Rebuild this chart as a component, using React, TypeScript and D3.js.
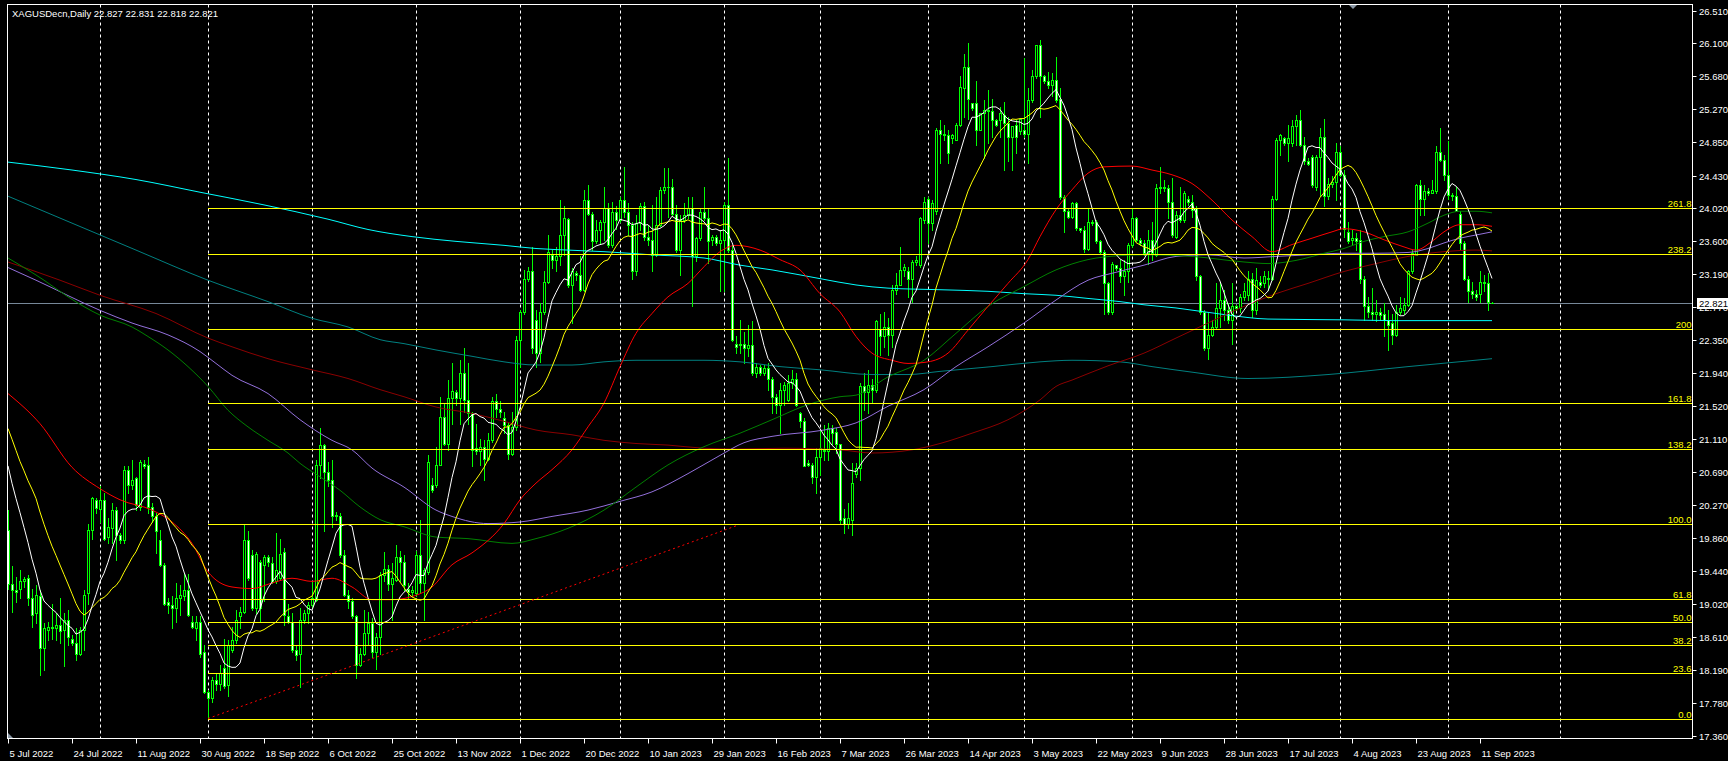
import React from 'react';
import * as d3 from 'd3';

const WIDTH = 1728;
const HEIGHT = 761;

// daily bars: open, high, low, close
const candles: [number, number, number, number][] = [
  [19.96, 20.21, 19.22, 19.28], [19.28, 19.5, 18.93, 19.2], [19.2, 19.37, 19.05, 19.18], [19.22, 19.45, 19.1, 19.31],
  [19.31, 19.37, 19.24, 19.34], [19.35, 19.39, 19.01, 19.1], [19.1, 19.22, 18.74, 18.89], [18.91, 19.26, 18.78, 19.14],
  [19.12, 19.2, 18.13, 18.47], [18.47, 18.78, 18.19, 18.72], [18.7, 18.8, 18.57, 18.74], [18.74, 19.03, 18.59, 18.72],
  [18.72, 18.91, 18.57, 18.76], [18.76, 19.1, 18.53, 18.68], [18.7, 18.91, 18.24, 18.82], [18.82, 18.95, 18.51, 18.61],
  [18.59, 18.63, 18.51, 18.53], [18.53, 18.72, 18.32, 18.4], [18.4, 18.74, 18.38, 18.7], [18.7, 19.2, 18.45, 19.14],
  [19.16, 20.04, 19.03, 19.96], [19.96, 20.38, 19.85, 20.36], [20.34, 20.36, 20.17, 20.24], [20.23, 20.51, 20.06, 20.34],
  [20.34, 20.42, 19.83, 19.85], [19.87, 20.11, 19.79, 20.0], [19.98, 20.3, 19.79, 20.21], [20.21, 20.25, 19.58, 19.9],
  [19.9, 19.92, 19.79, 19.83], [19.83, 20.76, 19.79, 20.72], [20.72, 20.76, 20.42, 20.53], [20.53, 20.84, 20.48, 20.59],
  [20.61, 20.63, 20.21, 20.27], [20.25, 20.84, 20.21, 20.82], [20.79, 20.84, 20.74, 20.77], [20.78, 20.88, 20.17, 20.25],
  [20.25, 20.3, 20.06, 20.13], [20.13, 20.17, 19.67, 19.94], [19.83, 19.96, 19.5, 19.52], [19.52, 19.54, 19.01, 19.03],
  [19.05, 19.1, 18.91, 19.01], [19.01, 19.12, 18.72, 18.97], [18.97, 19.29, 18.8, 19.1], [19.1, 19.26, 18.89, 19.14],
  [19.12, 19.41, 19.08, 19.2], [19.2, 19.41, 18.87, 18.89], [18.8, 18.87, 18.72, 18.74], [18.72, 18.87, 18.57, 18.8],
  [18.8, 18.87, 18.36, 18.4], [18.42, 18.51, 17.9, 17.92], [17.92, 17.94, 17.57, 17.84], [17.84, 18.11, 17.79, 18.07],
  [18.07, 18.15, 17.94, 18.01], [18.01, 18.26, 17.94, 18.15], [18.22, 18.59, 17.96, 17.99], [18.0, 18.57, 17.86, 18.51],
  [18.45, 18.74, 18.42, 18.57], [18.57, 18.95, 18.53, 18.82], [18.87, 18.99, 18.72, 18.93], [18.93, 20.02, 18.91, 19.83],
  [19.83, 19.94, 19.33, 19.35], [19.64, 19.71, 18.95, 18.97], [18.97, 19.68, 18.91, 19.66], [19.56, 19.58, 18.8, 18.97],
  [19.52, 19.64, 19.06, 19.62], [19.62, 19.64, 19.5, 19.56], [19.54, 19.62, 19.29, 19.31], [19.31, 19.92, 19.29, 19.45],
  [19.35, 19.85, 19.33, 19.66], [19.68, 19.73, 18.76, 18.89], [18.87, 19.03, 18.78, 18.8], [18.8, 18.91, 18.42, 18.45],
  [18.45, 18.49, 18.32, 18.38], [18.4, 18.97, 17.98, 18.82], [18.82, 18.95, 18.78, 18.91], [18.91, 19.05, 18.78, 19.01],
  [19.01, 19.31, 18.97, 19.1], [19.08, 20.84, 19.06, 20.78], [20.78, 21.24, 20.61, 21.03], [21.03, 21.05, 19.94, 20.69],
  [20.69, 20.82, 20.51, 20.59], [20.59, 20.84, 20.0, 20.13], [20.15, 20.19, 20.09, 20.13], [20.13, 20.17, 19.62, 19.64],
  [19.64, 19.71, 19.12, 19.14], [19.14, 19.2, 18.97, 19.06], [19.06, 19.1, 18.85, 18.87], [18.87, 18.89, 18.09, 18.26],
  [18.26, 18.47, 18.24, 18.4], [18.4, 18.95, 18.38, 18.66], [18.66, 18.93, 18.51, 18.78], [18.78, 18.85, 18.36, 18.42],
  [18.42, 18.66, 18.2, 18.61], [18.61, 19.43, 18.4, 19.39], [19.39, 19.68, 19.31, 19.47], [19.47, 19.52, 19.2, 19.28],
  [19.28, 19.54, 18.82, 19.35], [19.33, 19.77, 19.31, 19.62], [19.62, 19.69, 19.31, 19.56], [19.56, 19.64, 19.2, 19.27],
  [19.22, 19.29, 19.1, 19.18], [19.18, 19.25, 19.12, 19.2], [19.16, 19.69, 19.12, 19.64], [19.64, 20.08, 19.16, 19.29],
  [19.29, 19.48, 18.82, 19.45], [19.43, 20.9, 19.41, 20.82], [20.53, 20.61, 20.44, 20.46], [20.53, 21.01, 20.5, 20.78],
  [20.78, 21.64, 20.78, 21.39], [21.39, 21.56, 21.03, 21.05], [21.05, 21.85, 20.97, 21.62], [21.62, 22.06, 21.3, 21.71],
  [21.7, 21.73, 21.54, 21.62], [21.62, 22.1, 21.3, 21.94], [21.94, 22.25, 21.45, 21.6], [21.6, 22.06, 21.3, 21.43],
  [21.43, 21.45, 20.76, 20.97], [20.99, 21.3, 20.92, 20.95], [20.95, 21.11, 20.78, 21.01], [21.01, 21.09, 20.59, 20.86],
  [20.86, 21.18, 20.84, 21.09], [21.09, 21.64, 21.07, 21.58], [21.58, 21.68, 21.39, 21.49], [21.49, 21.58, 21.39, 21.45],
  [21.37, 21.45, 21.18, 21.28], [21.28, 21.32, 20.86, 20.92], [20.92, 21.45, 20.9, 21.26], [21.26, 22.4, 21.22, 22.36],
  [22.36, 22.73, 22.02, 22.71], [22.71, 23.24, 22.69, 23.13], [23.13, 23.28, 23.1, 23.22], [23.22, 23.53, 22.19, 22.25],
  [22.61, 22.73, 22.02, 22.19], [22.19, 22.82, 22.08, 22.71], [22.71, 23.22, 22.69, 23.09], [23.09, 23.68, 23.07, 23.47],
  [23.43, 23.49, 23.26, 23.37], [23.37, 23.53, 23.22, 23.41], [23.41, 24.12, 23.3, 23.68], [23.68, 24.04, 23.43, 23.89],
  [23.88, 23.89, 23.03, 23.05], [23.05, 23.26, 22.57, 23.22], [23.2, 23.22, 23.11, 23.18], [23.18, 23.41, 22.97, 22.99],
  [22.99, 24.25, 22.97, 24.12], [24.12, 24.31, 23.93, 23.95], [23.95, 23.97, 23.49, 23.6], [23.6, 23.87, 23.58, 23.74],
  [23.74, 23.87, 23.58, 23.85], [23.85, 24.29, 23.62, 24.02], [24.02, 24.08, 23.53, 23.55], [23.55, 24.1, 23.53, 23.97],
  [23.97, 24.04, 23.76, 23.87], [23.87, 24.16, 23.85, 24.12], [24.12, 24.54, 23.91, 23.97], [23.97, 24.08, 23.68, 23.81],
  [23.81, 23.85, 23.12, 23.22], [23.22, 23.93, 23.18, 23.83], [23.83, 24.08, 23.74, 24.04], [24.04, 24.1, 23.62, 23.66],
  [23.66, 23.81, 23.55, 23.62], [23.62, 24.06, 23.22, 23.43], [23.43, 24.16, 23.41, 23.81], [23.81, 24.29, 23.79, 24.25],
  [24.25, 24.52, 24.21, 24.29], [24.29, 24.52, 23.91, 24.29], [24.29, 24.39, 23.93, 23.95], [23.95, 24.06, 23.47, 23.49],
  [23.49, 23.93, 23.18, 23.87], [23.87, 24.08, 23.85, 23.93], [23.93, 24.16, 23.89, 24.02], [24.02, 24.16, 22.78, 23.41],
  [23.41, 23.66, 23.35, 23.64], [23.64, 24.02, 23.62, 23.97], [23.97, 24.29, 23.87, 23.89], [23.89, 24.02, 23.33, 23.6],
  [23.62, 23.68, 23.55, 23.66], [23.66, 23.68, 23.55, 23.58], [23.58, 23.74, 22.97, 23.62], [23.62, 24.1, 22.97, 24.06],
  [24.06, 24.65, 23.47, 23.49], [23.49, 23.55, 22.34, 22.36], [22.3, 22.4, 22.19, 22.27], [22.29, 22.61, 22.19, 22.3],
  [22.3, 22.46, 22.06, 22.25], [22.25, 22.54, 22.15, 22.29], [22.29, 22.59, 21.92, 21.94], [21.94, 22.06, 21.89, 22.02],
  [22.02, 22.04, 21.92, 21.94], [21.94, 22.04, 21.92, 22.0], [22.0, 22.06, 21.73, 21.87], [21.87, 21.89, 21.43, 21.64],
  [21.64, 21.68, 21.43, 21.53], [21.53, 21.81, 21.18, 21.72], [21.72, 21.83, 21.54, 21.79], [21.6, 21.92, 21.58, 21.81],
  [21.81, 21.98, 21.75, 21.87], [21.87, 21.94, 21.52, 21.54], [21.43, 21.45, 21.26, 21.33], [21.33, 21.37, 20.76, 20.76],
  [20.8, 20.84, 20.76, 20.78], [20.78, 20.8, 20.55, 20.63], [20.63, 20.99, 20.42, 20.88], [20.88, 21.22, 20.65, 20.99],
  [20.97, 21.28, 20.84, 20.95], [20.95, 21.31, 20.84, 21.24], [21.24, 21.28, 21.05, 21.18], [21.2, 21.24, 20.93, 21.05],
  [21.05, 21.05, 20.04, 20.09], [20.11, 20.23, 19.92, 20.04], [20.04, 20.3, 19.98, 20.11], [20.09, 20.8, 19.9, 20.55],
  [20.67, 20.8, 20.63, 20.74], [20.74, 21.81, 20.59, 21.77], [21.77, 21.94, 21.47, 21.7], [21.7, 21.98, 21.43, 21.79],
  [21.79, 21.87, 21.56, 21.73], [21.73, 22.61, 21.7, 22.59], [22.5, 22.69, 22.17, 22.4], [22.4, 22.71, 22.27, 22.52],
  [22.52, 22.63, 22.17, 22.42], [22.42, 23.05, 22.27, 22.99], [22.99, 23.2, 22.94, 23.05], [23.05, 23.53, 23.05, 23.24],
  [23.24, 23.32, 23.16, 23.28], [23.22, 23.28, 22.9, 23.13], [23.13, 23.37, 22.84, 23.34], [23.34, 23.41, 23.3, 23.37],
  [23.3, 23.91, 23.28, 23.89], [23.87, 24.16, 23.83, 24.1], [24.14, 24.16, 23.58, 23.83], [23.83, 24.12, 23.74, 24.08],
  [23.98, 25.03, 23.95, 25.01], [25.01, 25.13, 24.59, 24.96], [24.96, 25.07, 24.88, 24.94], [24.94, 25.01, 24.59, 24.71],
  [24.9, 24.96, 24.84, 24.94], [24.88, 25.09, 24.88, 25.07], [25.07, 25.68, 25.05, 25.55], [25.53, 25.97, 25.17, 25.8],
  [25.8, 26.1, 25.15, 25.4], [25.34, 25.34, 25.26, 25.28], [25.34, 25.62, 24.82, 25.01], [25.01, 25.22, 25.01, 25.22],
  [25.22, 25.38, 24.65, 25.26], [25.26, 25.51, 24.84, 25.24], [25.24, 25.4, 24.92, 25.13], [25.13, 25.15, 25.05, 25.07],
  [25.13, 25.3, 24.92, 25.22], [25.19, 25.36, 24.5, 25.09], [25.09, 25.17, 24.61, 24.92], [24.92, 25.05, 24.5, 25.05],
  [25.07, 25.13, 24.71, 24.92], [24.99, 25.15, 24.96, 25.15], [25.01, 25.91, 24.92, 24.96], [24.96, 25.53, 24.59, 25.38],
  [25.38, 25.76, 25.36, 25.68], [25.68, 26.08, 25.66, 26.08], [26.08, 26.14, 25.17, 25.68], [25.68, 25.7, 25.6, 25.62],
  [25.62, 25.74, 25.53, 25.57], [25.57, 25.72, 25.43, 25.64], [25.64, 25.93, 25.36, 25.38], [25.4, 25.53, 24.14, 24.16],
  [24.16, 24.19, 23.72, 23.98], [23.98, 24.02, 23.89, 23.91], [23.91, 24.1, 23.89, 24.08], [24.08, 24.1, 23.74, 23.77],
  [23.77, 23.77, 23.72, 23.74], [23.74, 23.79, 23.47, 23.51], [23.51, 24.02, 23.49, 23.85], [23.85, 23.87, 23.81, 23.83],
  [23.85, 23.87, 23.58, 23.6], [23.6, 23.62, 23.45, 23.47], [23.47, 23.49, 22.69, 23.07], [23.07, 23.09, 22.69, 22.71],
  [22.71, 23.34, 22.69, 23.32], [23.3, 23.3, 23.24, 23.26], [23.26, 23.36, 23.09, 23.16], [23.16, 23.36, 22.92, 23.22],
  [23.22, 23.58, 23.09, 23.55], [23.55, 24.02, 23.53, 23.89], [23.89, 23.91, 23.6, 23.62], [23.62, 23.64, 23.55, 23.58],
  [23.58, 23.62, 23.43, 23.45], [23.45, 23.74, 23.32, 23.62], [23.62, 23.85, 23.36, 23.45], [23.43, 24.33, 23.41, 24.27],
  [24.27, 24.54, 24.21, 24.29], [24.29, 24.37, 24.23, 24.27], [24.27, 24.31, 23.89, 24.1], [24.1, 24.4, 23.66, 23.68],
  [23.66, 23.98, 23.64, 23.93], [23.93, 24.29, 23.85, 23.87], [23.87, 24.23, 23.85, 24.21], [24.14, 24.17, 24.06, 24.1],
  [24.1, 24.19, 23.91, 24.0], [24.02, 24.04, 23.11, 23.16], [23.16, 23.18, 22.69, 22.71], [22.71, 22.74, 22.23, 22.25],
  [22.25, 22.71, 22.12, 22.42], [22.42, 22.61, 22.4, 22.52], [22.52, 23.07, 22.5, 22.76], [22.76, 23.09, 22.52, 22.86],
  [22.86, 22.99, 22.61, 22.74], [22.74, 22.82, 22.57, 22.61], [22.61, 23.07, 22.31, 22.78], [22.78, 22.8, 22.74, 22.76],
  [22.76, 22.94, 22.71, 22.9], [22.9, 23.07, 22.86, 22.97], [22.92, 23.22, 22.86, 23.13], [23.13, 23.2, 22.65, 22.74],
  [22.74, 23.26, 22.69, 23.11], [23.09, 23.16, 23.03, 23.05], [23.07, 23.22, 23.03, 23.16], [23.14, 23.22, 22.99, 23.13],
  [23.13, 24.17, 23.11, 24.14], [24.14, 24.9, 24.12, 24.88], [24.88, 24.96, 24.69, 24.94], [24.9, 24.92, 24.82, 24.84],
  [24.84, 25.07, 24.61, 24.9], [24.84, 25.13, 24.8, 25.05], [25.05, 25.19, 24.82, 25.13], [25.13, 25.26, 24.8, 24.82],
  [24.82, 24.92, 24.58, 24.61], [24.61, 24.65, 24.56, 24.58], [24.67, 24.69, 24.29, 24.31], [24.29, 24.69, 24.25, 24.67],
  [24.67, 25.03, 24.17, 24.92], [24.92, 25.15, 24.04, 24.17], [24.17, 24.4, 24.14, 24.33], [24.33, 24.42, 24.29, 24.35],
  [24.35, 24.84, 24.12, 24.73], [24.73, 24.8, 24.42, 24.44], [24.44, 24.5, 23.66, 23.76], [23.72, 23.85, 23.58, 23.6],
  [23.62, 23.74, 23.55, 23.64], [23.64, 23.7, 23.49, 23.6], [23.62, 23.74, 23.07, 23.13], [23.13, 23.16, 22.61, 22.78],
  [22.78, 22.9, 22.65, 22.71], [22.71, 23.01, 22.61, 22.69], [22.69, 22.86, 22.59, 22.71], [22.71, 22.76, 22.61, 22.67],
  [22.69, 22.82, 22.4, 22.61], [22.61, 22.74, 22.23, 22.55], [22.57, 22.69, 22.31, 22.42], [22.42, 22.8, 22.4, 22.71],
  [22.71, 22.9, 22.69, 22.76], [22.74, 22.88, 22.69, 22.8], [22.8, 23.24, 22.78, 23.22], [23.22, 23.49, 23.2, 23.45],
  [23.43, 24.33, 23.43, 24.31], [24.31, 24.37, 23.93, 24.14], [24.14, 24.31, 23.93, 24.23], [24.23, 24.27, 24.19, 24.21],
  [24.21, 24.37, 24.21, 24.25], [24.23, 24.8, 24.21, 24.73], [24.73, 25.03, 24.61, 24.63], [24.63, 24.69, 24.37, 24.44],
  [24.44, 24.86, 24.14, 24.19], [24.19, 24.21, 24.12, 24.17], [24.17, 24.29, 23.98, 23.98], [23.95, 23.98, 23.49, 23.58],
  [23.58, 23.6, 23.11, 23.13], [23.13, 23.16, 22.84, 22.97], [22.97, 23.09, 22.88, 22.94], [22.94, 22.99, 22.86, 22.9],
  [22.94, 23.22, 22.84, 23.09], [23.09, 23.18, 22.97, 23.07], [23.07, 23.2, 22.74, 22.84], [22.827, 22.831, 22.818, 22.821],
];

// closes before the first visible bar (feed the short moving averages)
const priorCloses = [21.9, 22.0, 22.1, 21.7, 21.6, 21.0, 21.5, 21.9, 21.8, 21.6, 21.4, 21.1, 21.1, 21.2, 21.0, 21.0, 20.9, 20.6, 20.1];

const dateLabels = [
  '5 Jul 2022', '24 Jul 2022', '11 Aug 2022', '30 Aug 2022', '18 Sep 2022', '6 Oct 2022', '25 Oct 2022', '13 Nov 2022',
  '1 Dec 2022', '20 Dec 2022', '10 Jan 2023', '29 Jan 2023', '16 Feb 2023', '7 Mar 2023', '26 Mar 2023', '14 Apr 2023',
  '3 May 2023', '22 May 2023', '9 Jun 2023', '28 Jun 2023', '17 Jul 2023', '4 Aug 2023', '23 Aug 2023', '11 Sep 2023',
];
const barsPerDateLabel = 16;

// first bar of each month (dashed grid)
const monthStartBars = [23, 50, 76, 102, 128, 153, 179, 203, 230, 254, 281, 307, 333, 360, 388];

const priceTicks = [
  26.51, 26.1, 25.68, 25.27, 24.85, 24.43, 24.02, 23.6, 23.19, 22.77, 22.35, 21.94, 21.52, 21.11, 20.69, 20.27, 19.86,
  19.44, 19.02, 18.61, 18.19, 17.78, 17.36,
];

const fibRatios = [0, 0.236, 0.382, 0.5, 0.618, 1, 1.382, 1.618, 2, 2.382, 2.618];
const fibLabels = ['0.0', '23.6', '38.2', '50.0', '61.8', '100.0', '138.2', '161.8', '200', '238.2', '261.8'];
const fibLow = 17.571;
const fibHigh = 20.035;
const fibStartBar = 50;

const trendLine: [number, number][] = [[50, 17.58], [182.5, 20.02]];

const lastPrice = 22.821;

// long moving averages: [bar, price]
const maRed: [number, number][] = [
  [0, 21.68], [8, 21.3], [16, 20.75], [23, 20.48], [28, 20.34], [36, 20.21], [41, 20.06], [46, 19.79], [50, 19.43],
  [56, 19.24], [61, 19.22], [66, 19.29], [71, 19.35], [76, 19.31], [81, 19.35], [86, 19.24], [91, 19.08], [96, 19.08],
  [101, 19.12], [106, 19.24], [111, 19.52], [116, 19.67], [124, 20.04], [128, 20.34], [132, 20.55], [136, 20.72],
  [141, 20.97], [145, 21.26], [149, 21.56], [153, 22.02], [157, 22.44], [161, 22.69], [165, 22.9], [170, 23.07],
  [174, 23.28], [178, 23.47], [182, 23.55], [188, 23.49], [193, 23.37], [198, 23.24], [203, 22.94], [208, 22.71],
  [212, 22.4], [216, 22.19], [221, 22.1], [225, 22.06], [230, 22.08], [235, 22.19], [240, 22.48], [245, 22.78],
  [250, 23.07], [255, 23.37], [258, 23.66], [262, 24.0], [266, 24.25], [270, 24.46], [274, 24.54], [281, 24.55],
  [286, 24.5], [291, 24.44], [296, 24.33], [301, 24.12], [306, 23.87], [311, 23.66], [316, 23.47], [321, 23.56],
  [326, 23.64], [331, 23.72], [334, 23.76], [339, 23.72], [344, 23.62], [349, 23.53], [352, 23.49], [356, 23.6],
  [359, 23.72], [363, 23.81], [367, 23.81], [371, 23.79],
];
const maGreen: [number, number][] = [
  [0, 23.39], [9, 23.11], [15, 22.9], [23, 22.67], [31, 22.52], [35, 22.4], [40, 22.23], [45, 22.02], [50, 21.77],
  [55, 21.47], [60, 21.26], [65, 21.09], [70, 20.93], [73, 20.8], [78, 20.63], [83, 20.46], [88, 20.25], [93, 20.09],
  [99, 20.0], [107, 19.87], [115, 19.85], [126, 19.79], [132, 19.85], [140, 19.98], [149, 20.21], [157, 20.5],
  [165, 20.78], [174, 21.01], [183, 21.18], [191, 21.35], [200, 21.54], [208, 21.64], [212, 21.66], [220, 21.89],
  [229, 22.1], [237, 22.44], [245, 22.78], [254, 23.03], [262, 23.24], [270, 23.37], [278, 23.42], [284, 23.43],
  [296, 23.41], [309, 23.34], [315, 23.32], [322, 23.36], [329, 23.45], [334, 23.51], [339, 23.6], [344, 23.66],
  [350, 23.72], [355, 23.83], [359, 23.93], [363, 23.98], [367, 23.98], [371, 23.96],
];
const maPurple: [number, number][] = [
  [0, 23.27], [7, 23.11], [23, 22.73], [31, 22.57], [40, 22.42], [48, 22.21], [52, 22.06], [56, 21.91], [65, 21.68],
  [73, 21.35], [81, 21.09], [86, 20.97], [91, 20.74], [99, 20.5], [107, 20.21], [111, 20.13], [120, 20.04], [128, 20.06],
  [136, 20.13], [145, 20.21], [153, 20.32], [161, 20.44], [170, 20.67], [178, 20.9], [184, 21.06], [191, 21.14],
  [204, 21.22], [212, 21.31], [220, 21.52], [229, 21.73], [237, 22.02], [245, 22.27], [254, 22.57], [262, 22.86],
  [270, 23.11], [277, 23.21], [284, 23.3], [292, 23.41], [300, 23.43], [309, 23.39], [317, 23.41], [325, 23.43],
  [334, 23.45], [342, 23.45], [350, 23.46], [355, 23.51], [359, 23.58], [363, 23.64], [367, 23.68], [371, 23.72],
];
const maDarkRed: [number, number][] = [
  [0, 23.34], [13, 23.11], [23, 22.92], [37, 22.69], [50, 22.38], [56, 22.27], [65, 22.12], [76, 21.98], [85, 21.87],
  [93, 21.73], [99, 21.64], [107, 21.51], [116, 21.43], [124, 21.33], [132, 21.22], [141, 21.16], [149, 21.09],
  [157, 21.05], [165, 21.03], [174, 20.99], [182, 20.98], [194, 20.99], [208, 20.97], [216, 20.93], [226, 20.97],
  [233, 21.05], [241, 21.18], [250, 21.35], [258, 21.6], [262, 21.77], [266, 21.85], [275, 22.03], [284, 22.19],
  [292, 22.38], [300, 22.57], [309, 22.78], [317, 22.94], [325, 23.07], [334, 23.22], [342, 23.32], [350, 23.41],
  [359, 23.47], [367, 23.49], [371, 23.48],
];
const maAqua: [number, number][] = [
  [0, 24.6], [16, 24.5], [32, 24.38], [48, 24.22], [64, 24.06], [80, 23.88], [90, 23.75], [101, 23.66], [112, 23.6],
  [124, 23.55], [132, 23.51], [140, 23.49], [149, 23.47], [161, 23.43], [174, 23.39], [183, 23.3], [191, 23.24],
  [203, 23.13], [212, 23.05], [220, 23.01], [233, 22.99], [245, 22.97], [254, 22.94], [262, 22.92], [270, 22.88],
  [278, 22.84], [284, 22.8], [292, 22.76], [305, 22.67], [315, 22.62], [334, 22.61], [347, 22.6], [371, 22.6],
];
const maTeal: [number, number][] = [
  [0, 24.17], [16, 23.83], [32, 23.49], [50, 23.11], [65, 22.84], [76, 22.63], [85, 22.52], [93, 22.36], [99, 22.31],
  [107, 22.23], [116, 22.15], [124, 22.08], [132, 22.04], [141, 22.04], [149, 22.08], [157, 22.1], [174, 22.1],
  [183, 22.08], [193, 22.02], [203, 21.98], [216, 21.92], [225, 21.92], [233, 21.96], [246, 22.02], [258, 22.08],
  [266, 22.1], [278, 22.08], [286, 22.02], [296, 21.95], [310, 21.87], [330, 21.92], [350, 22.02], [371, 22.12],
];

const FONT = "'Liberation Sans', Arial, sans-serif";

function sma(period: number): [number, number][] {
  const closes = [...priorCloses, ...candles.map((c) => c[3])];
  return candles.map((_, i) => {
    const end = priorCloses.length + i;
    return [i, d3.mean(closes.slice(end - period + 1, end + 1)) as number];
  });
}

export default function App() {
  const plot = { left: 7.5, top: 4.5, right: 1692.5, bottom: 738.5 };
  const x = d3.scaleLinear().domain([0, candles.length - 1]).range([8, 8 + 4 * (candles.length - 1)]);
  const y = d3.scaleLinear().domain([17.36, 26.51]).range([736, 10.7]);

  const smooth = d3
    .line<[number, number]>()
    .x((d) => x(d[0]))
    .y((d) => y(d[1]))
    .curve(d3.curveMonotoneX);
  const straight = d3
    .line<[number, number]>()
    .x((d) => x(d[0]))
    .y((d) => y(d[1]));

  const longMas: { data: [number, number][]; color: string }[] = [
    { data: maTeal, color: '#008080' },
    { data: maAqua, color: '#00ffff' },
    { data: maDarkRed, color: '#8b0000' },
    { data: maPurple, color: '#9370db' },
    { data: maGreen, color: '#008000' },
    { data: maRed, color: '#ff0000' },
  ];

  const crisp = (v: number) => Math.round(v) + 0.5;
  const lastY = crisp(y(lastPrice));

  return (
    <svg
      width={WIDTH}
      height={HEIGHT}
      style={{ position: 'absolute', left: 0, top: 0, background: '#000', display: 'block' }}
      fontFamily={FONT}
    >
      <rect x={0} y={0} width={WIDTH} height={HEIGHT} fill="#000" />
      <defs>
        <clipPath id="plot-clip">
          <rect x={plot.left} y={plot.top} width={plot.right - plot.left} height={plot.bottom - plot.top} />
        </clipPath>
      </defs>

      <g clipPath="url(#plot-clip)">
        {monthStartBars.map((b) => (
          <line
            key={'g' + b}
            x1={crisp(x(b))}
            x2={crisp(x(b))}
            y1={plot.top}
            y2={plot.bottom}
            stroke="#ffffff"
            strokeDasharray="3,3"
          />
        ))}

        <line x1={plot.left} x2={plot.right} y1={lastY} y2={lastY} stroke="#778899" />

        {candles.map(([o, h, l, c], i) => {
          const cx = crisp(x(i));
          const yo = Math.round(y(o));
          const yc = Math.round(y(c));
          const yh = Math.round(y(Math.max(h, o, c)));
          const yl = Math.round(y(Math.min(l, o, c)));
          const top = Math.min(yo, yc);
          const bot = Math.max(yo, yc);
          return (
            <g key={i}>
              <line x1={cx} x2={cx} y1={yh} y2={yl + 1} stroke="#00ff00" />
              {bot - top < 1 ? (
                <line x1={cx - 1.5} x2={cx + 1.5} y1={top + 0.5} y2={top + 0.5} stroke="#00ff00" />
              ) : (
                <rect
                  x={cx - 1}
                  y={top + 0.5}
                  width={2}
                  height={bot - top}
                  fill={c < o ? '#ffffff' : '#000000'}
                  stroke="#00ff00"
                />
              )}
            </g>
          );
        })}

        {longMas.map((m, i) => (
          <path key={'ma' + i} d={smooth(m.data) || ''} fill="none" stroke={m.color} strokeWidth={1} />
        ))}
        <path d={straight(sma(20)) || ''} fill="none" stroke="#ffff00" strokeWidth={1} />
        <path d={straight(sma(10)) || ''} fill="none" stroke="#ffffff" strokeWidth={1} />

        {fibRatios.map((r, i) => {
          const yy = crisp(y(fibLow + r * (fibHigh - fibLow)));
          return (
            <g key={'f' + i}>
              <line x1={x(fibStartBar)} x2={plot.right} y1={yy} y2={yy} stroke="#ffff00" />
              <text x={plot.right - 1} y={yy - 2} fill="#ffff00" fontSize={9.5} textAnchor="end">
                {fibLabels[i]}
              </text>
            </g>
          );
        })}

        <path
          d={straight(trendLine) || ''}
          fill="none"
          stroke="#ff0000"
          strokeWidth={1}
          strokeDasharray="2,3"
        />
      </g>

      {/* frame */}
      <rect
        x={plot.left}
        y={plot.top}
        width={plot.right - plot.left}
        height={plot.bottom - plot.top}
        fill="none"
        stroke="#ffffff"
      />
      <polygon points="1349,5 1357,5 1353,9" fill="#8a97a5" />
      <polygon points="8,738 8,733 13,738" fill="#8a97a5" />

      <text x={12} y={17} fill="#ffffff" fontSize={9.5}>
        XAGUSDecn,Daily  22.827 22.831 22.818 22.821
      </text>

      {/* price axis */}
      {priceTicks.map((v) => {
        const yy = crisp(y(v));
        return (
          <g key={'p' + v}>
            <line x1={plot.right} x2={plot.right + 4} y1={yy} y2={yy} stroke="#ffffff" />
            <text x={1699} y={yy} dy="0.35em" fill="#ffffff" fontSize={9.5}>
              {v.toFixed(3)}
            </text>
          </g>
        );
      })}
      <rect x={1697} y={lastY - 5.5} width={31} height={11} fill="#ffffff" />
      <text x={1699} y={lastY} dy="0.35em" fill="#000000" fontSize={9.5}>
        {lastPrice.toFixed(3)}
      </text>

      {/* time axis */}
      {dateLabels.map((lab, i) => {
        const xx = crisp(x(i * barsPerDateLabel));
        return (
          <g key={'d' + i}>
            <line x1={xx} x2={xx} y1={plot.bottom} y2={plot.bottom + 5} stroke="#ffffff" />
            <text x={xx + 1} y={757} fill="#ffffff" fontSize={9.5}>
              {lab}
            </text>
          </g>
        );
      })}
    </svg>
  );
}
